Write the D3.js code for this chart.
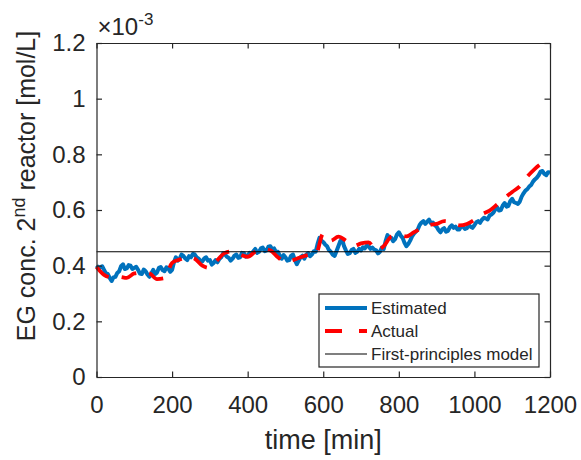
<!DOCTYPE html>
<html>
<head>
<meta charset="utf-8">
<script src="https://cdn.jsdelivr.net/npm/d3@7"></script>
<style>
  body { margin: 0; background: #fff; }
  text { font-family: "Liberation Sans", Arial, sans-serif; fill: #262626; }
</style>
</head>
<body>
<svg id="chart" width="581" height="460"></svg>
<script>
// estimated EG concentration, every 5 min (x 1e-3 mol/L)
var estTime = d3.range(0, 1201, 5);
var estimated = [
  0.400, 0.392, 0.395, 0.398, 0.385, 0.372, 0.370, 0.356, 0.345, 0.358,
  0.360, 0.374, 0.380, 0.398, 0.405, 0.388, 0.390, 0.402, 0.400, 0.388,
  0.392, 0.396, 0.385, 0.372, 0.370, 0.386, 0.380, 0.368, 0.360, 0.372,
  0.385, 0.370, 0.375, 0.392, 0.395, 0.384, 0.380, 0.394, 0.390, 0.378,
  0.385, 0.412, 0.430, 0.418, 0.425, 0.440, 0.435, 0.426, 0.420, 0.434,
  0.430, 0.442, 0.440, 0.430, 0.425, 0.418, 0.415, 0.426, 0.430, 0.418,
  0.420, 0.404, 0.410, 0.420, 0.412, 0.424, 0.430, 0.444, 0.440, 0.432,
  0.428, 0.418, 0.425, 0.436, 0.440, 0.428, 0.430, 0.446, 0.445, 0.432,
  0.435, 0.446, 0.440, 0.452, 0.460, 0.446, 0.450, 0.462, 0.465, 0.452,
  0.455, 0.468, 0.470, 0.458, 0.462, 0.448, 0.450, 0.436, 0.425, 0.438,
  0.430, 0.418, 0.420, 0.436, 0.440, 0.420, 0.405, 0.418, 0.430, 0.436,
  0.425, 0.440, 0.445, 0.434, 0.440, 0.452, 0.450, 0.478, 0.500, 0.490,
  0.485, 0.476, 0.470, 0.456, 0.450, 0.440, 0.435, 0.452, 0.470, 0.488,
  0.495, 0.470, 0.455, 0.442, 0.445, 0.456, 0.460, 0.446, 0.450, 0.460,
  0.455, 0.466, 0.462, 0.472, 0.470, 0.460, 0.465, 0.458, 0.455, 0.444,
  0.450, 0.465, 0.460, 0.488, 0.510, 0.498, 0.500, 0.488, 0.495, 0.512,
  0.520, 0.508, 0.500, 0.482, 0.470, 0.478, 0.490, 0.505, 0.515, 0.522,
  0.530, 0.546, 0.555, 0.560, 0.550, 0.558, 0.565, 0.552, 0.555, 0.546,
  0.540, 0.528, 0.520, 0.530, 0.535, 0.522, 0.525, 0.538, 0.545, 0.536,
  0.540, 0.530, 0.530, 0.542, 0.540, 0.532, 0.535, 0.546, 0.540, 0.536,
  0.545, 0.556, 0.560, 0.554, 0.565, 0.572, 0.570, 0.566, 0.580, 0.584,
  0.590, 0.602, 0.610, 0.598, 0.600, 0.616, 0.625, 0.612, 0.615, 0.632,
  0.640, 0.628, 0.625, 0.622, 0.630, 0.648, 0.660, 0.670, 0.675, 0.684,
  0.690, 0.702, 0.710, 0.716, 0.725, 0.738, 0.740, 0.730, 0.725, 0.736,
  0.735
];

// actual EG concentration, every 20 min
var actTime = d3.range(0, 1201, 20);
var actual = [
  0.395, 0.367, 0.358, 0.360, 0.356, 0.372, 0.375, 0.372, 0.352, 0.355,
  0.410, 0.422, 0.432, 0.425, 0.400, 0.392, 0.420, 0.446, 0.452, 0.440,
  0.432, 0.450, 0.460, 0.455, 0.430, 0.414, 0.420, 0.430, 0.438, 0.440,
  0.515, 0.490, 0.504, 0.490, 0.470, 0.480, 0.484, 0.455, 0.470, 0.505,
  0.510, 0.505, 0.520, 0.534, 0.546, 0.550, 0.560, 0.555, 0.545, 0.550,
  0.565, 0.585, 0.598, 0.620, 0.643, 0.665, 0.685, 0.720, 0.748, 0.770,
  0.785
];

var firstPrinciples = 0.45;

var xTicks = [0, 200, 400, 600, 800, 1000, 1200];
var yTicks = [0, 0.2, 0.4, 0.6, 0.8, 1, 1.2];
var legendLabels = ["Estimated", "Actual", "First-principles model"];

var svg = d3.select("svg#chart"),
    box = {left: 96.5, right: 550, top: 43, bottom: 377};

var x = d3.scaleLinear().domain([0, 1200]).range([box.left, box.right]);
var y = d3.scaleLinear().domain([0, 1.2]).range([box.bottom, box.top]);

var axisColor = "#262626";

// data lines
var line = d3.line()
    .x(function(d) { return x(d[0]); })
    .y(function(d) { return y(d[1]); });

var plot = svg.append("g");

plot.append("path")
    .datum(estTime.map(function(t, i) { return [t, estimated[i]]; }))
    .attr("d", line)
    .attr("fill", "none")
    .attr("stroke", "#0072bd")
    .attr("stroke-width", 4)
    .attr("stroke-linejoin", "round");

plot.append("path")
    .datum(actTime.map(function(t, i) { return [t, actual[i]]; }))
    .attr("d", line.curve(d3.curveMonotoneX))
    .attr("fill", "none")
    .attr("stroke", "#ff0000")
    .attr("stroke-width", 3.8)
    .attr("stroke-dasharray", "16,13");

plot.append("line")
    .attr("x1", x(0)).attr("x2", x(1200))
    .attr("y1", y(firstPrinciples)).attr("y2", y(firstPrinciples))
    .attr("stroke", "#000")
    .attr("stroke-width", 1.2);

// axes: box with inward ticks on all sides
var tickLen = 5.5;

svg.append("g")
    .attr("transform", "translate(0," + box.bottom + ")")
    .call(d3.axisBottom(x).tickValues(xTicks).tickSize(-tickLen).tickFormat(d3.format("d")).tickSizeOuter(0))
    .call(function(g) {
      g.select(".domain").attr("stroke", axisColor).attr("stroke-width", 1.2);
      g.selectAll(".tick line").attr("stroke", axisColor).attr("stroke-width", 1.2);
      g.selectAll(".tick text").attr("font-size", 24).attr("font-family", null).attr("fill", axisColor)
        .attr("y", 36).attr("dy", null);
    });

svg.append("g")
    .attr("transform", "translate(0," + box.top + ")")
    .call(d3.axisTop(x).tickValues(xTicks).tickSize(-tickLen).tickFormat("").tickSizeOuter(0))
    .call(function(g) {
      g.select(".domain").attr("stroke", axisColor).attr("stroke-width", 1.2);
      g.selectAll(".tick line").attr("stroke", axisColor).attr("stroke-width", 1.2);
    });

svg.append("g")
    .attr("transform", "translate(" + box.left + ",0)")
    .call(d3.axisLeft(y).tickValues(yTicks).tickSize(-tickLen).tickPadding(11).tickSizeOuter(0)
      .tickFormat(function(d) { return d3.format("~g")(d); }))
    .call(function(g) {
      g.select(".domain").attr("stroke", axisColor).attr("stroke-width", 1.2);
      g.selectAll(".tick line").attr("stroke", axisColor).attr("stroke-width", 1.2);
      g.selectAll(".tick text").attr("font-size", 24).attr("font-family", null).attr("fill", axisColor);
    });

svg.append("g")
    .attr("transform", "translate(" + box.right + ",0)")
    .call(d3.axisRight(y).tickValues(yTicks).tickSize(-tickLen).tickFormat("").tickSizeOuter(0))
    .call(function(g) {
      g.select(".domain").attr("stroke", axisColor).attr("stroke-width", 1.2);
      g.selectAll(".tick line").attr("stroke", axisColor).attr("stroke-width", 1.2);
    });

// exponent label
var expo = svg.append("text")
    .attr("x", box.left + 1)
    .attr("y", 35)
    .attr("font-size", 24);
expo.append("tspan").text("\u00d710");
expo.append("tspan").attr("font-size", 17).attr("dy", -10).text("-3");

// axis titles
svg.append("text")
    .attr("x", (box.left + box.right) / 2)
    .attr("y", 449)
    .attr("text-anchor", "middle")
    .attr("font-size", 27)
    .text("time [min]");

var ylab = svg.append("text")
    .attr("transform", "translate(35," + 186 + ") rotate(-90)")
    .attr("text-anchor", "middle")
    .attr("font-size", 25);
ylab.append("tspan").text("EG conc. 2");
ylab.append("tspan").attr("font-size", 18).attr("dy", -10).text("nd");
ylab.append("tspan").attr("dy", 10).text(" reactor [mol/L]");

// legend
var legend = svg.append("g");

legend.append("rect")
    .attr("x", 319).attr("y", 294)
    .attr("width", 220).attr("height", 73)
    .attr("fill", "#fff")
    .attr("stroke", axisColor)
    .attr("stroke-width", 1.2);

var legStyles = [
  {color: "#0072bd", width: 3.8, dash: null},
  {color: "#ff0000", width: 3.8, dash: "17,17"},
  {color: "#000", width: 1.2, dash: null}
];

var items = legend.selectAll("g.item")
    .data(legendLabels)
    .enter().append("g")
      .attr("class", "item")
      .attr("transform", function(d, i) { return "translate(0," + (308 + i * 23) + ")"; });

items.append("line")
    .attr("x1", 325).attr("x2", 367)
    .attr("stroke", function(d, i) { return legStyles[i].color; })
    .attr("stroke-width", function(d, i) { return legStyles[i].width; })
    .attr("stroke-dasharray", function(d, i) { return legStyles[i].dash; });

items.append("text")
    .attr("x", 371)
    .attr("dy", "0.35em")
    .attr("font-size", 17)
    .text(function(d) { return d; });
</script>
</body>
</html>
